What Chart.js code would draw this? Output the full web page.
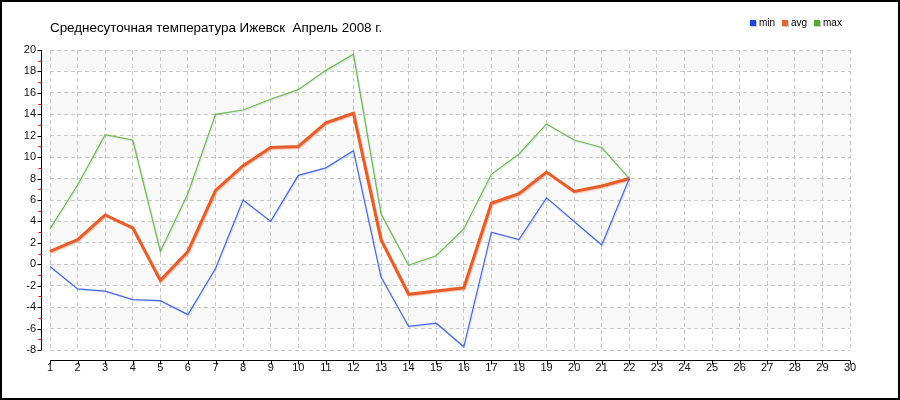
<!DOCTYPE html>
<html>
<head>
<meta charset="utf-8">
<title>Среднесуточная температура Ижевск</title>
<script src="https://cdn.jsdelivr.net/npm/chart.js@4/dist/chart.umd.min.js"></script>
<style>
  html, body { margin: 0; padding: 0; background: #fff; }
  #wrap { width: 900px; height: 400px; }
</style>
</head>
<body>
<div id="wrap"><canvas id="c" width="900" height="400"></canvas></div>
<script>
// --- данные: апрель 2008, дни 1..30, значения до 22-го ---
var days = ['1','2','3','4','5','6','7','8','9','10','11','12','13','14','15',
            '16','17','18','19','20','21','22','23','24','25','26','27','28','29','30'];
var tMin = [-0.2, -2.3, -2.5, -3.3, -3.4, -4.7, -0.4, 6.0, 4.0, 8.3, 9.0, 10.6, -1.2, -5.8, -5.5,
            -7.7, 3.0, 2.3, 6.2, 4.0, 1.8, 8.0];
var tAvg = [1.2, 2.3, 4.6, 3.4, -1.5, 1.2, 6.9, 9.2, 10.9, 11.0, 13.2, 14.1, 2.3, -2.8, -2.5,
            -2.2, 5.7, 6.6, 8.6, 6.8, 7.3, 8.0];
var tMax = [3.3, 7.4, 12.1, 11.6, 1.2, 6.6, 14.0, 14.4, 15.4, 16.3, 18.1, 19.6, 4.7, -0.1, 0.8,
            3.3, 8.4, 10.3, 13.1, 11.6, 10.9, 8.0];
var seriesNames = ['min', 'avg', 'max'];
var yMin = -8, yMax = 20, yStep = 2;

var TITLE = 'Среднесуточная температура Ижевск  Апрель 2008 г.';
var TICK_FONT = { family: "'Liberation Sans Narrow', 'Liberation Sans', sans-serif", size: 11 };

// фон: чередующиеся серые полосы
var bands = {
  id: 'bands',
  beforeDraw: function (chart) {
    var ctx = chart.ctx, a = chart.chartArea, y = chart.scales.y;
    ctx.save();
    ctx.fillStyle = '#fff';
    ctx.fillRect(0, 0, chart.width, chart.height);
    ctx.fillStyle = '#f8f8f8';
    for (var v = yMax; v > yMin; v -= 2 * yStep) {
      var t = y.getPixelForValue(v), b = y.getPixelForValue(v - yStep);
      ctx.fillRect(a.left, t, a.right - a.left, b - t);
    }
    ctx.restore();
  }
};

// линии с лёгкой тенью
var shadow = {
  id: 'shadow',
  beforeDatasetDraw: function (chart, args) {
    var ctx = chart.ctx;
    ctx.save();
    ctx.shadowColor = args.index === 1 ? 'rgba(235,120,80,0.45)' : 'rgba(120,140,220,0.25)';
    ctx.shadowOffsetX = 1;
    ctx.shadowOffsetY = 1;
    ctx.shadowBlur = 1;
  },
  afterDatasetDraw: function (chart) { chart.ctx.restore(); }
};

// оси отдельно от области графика, заголовок, легенда, рамка
var decor = {
  id: 'decor',
  afterDraw: function (chart) {
    var ctx = chart.ctx, a = chart.chartArea, xs = chart.scales.x, ys = chart.scales.y;
    var ax = a.left - 8.5, ay = a.bottom + 10.5;
    ctx.save();
    ctx.lineWidth = 1;

    // ось Y
    ctx.strokeStyle = '#000';
    ctx.beginPath();
    ctx.moveTo(ax, a.top); ctx.lineTo(ax, a.bottom);
    for (var v = yMin; v <= yMax; v += yStep) {
      var p = Math.round(ys.getPixelForValue(v)) + 0.5;
      ctx.moveTo(ax - 4, p); ctx.lineTo(ax, p);
    }
    ctx.stroke();
    ctx.strokeStyle = '#e00000';
    ctx.beginPath();
    for (var m = yMin + yStep / 2; m < yMax; m += yStep) {
      var q = Math.round(ys.getPixelForValue(m)) + 0.5;
      ctx.moveTo(ax - 3, q); ctx.lineTo(ax, q);
    }
    ctx.stroke();

    // ось X
    ctx.strokeStyle = '#000';
    ctx.beginPath();
    ctx.moveTo(a.left, ay); ctx.lineTo(a.right, ay);
    for (var i = 0; i < days.length; i++) {
      var px = Math.round(xs.getPixelForValue(i)) + 0.5;
      ctx.moveTo(px, ay); ctx.lineTo(px, ay + 4);
    }
    ctx.stroke();

    // заголовок
    ctx.fillStyle = '#000';
    ctx.font = "13.4px 'Liberation Sans', Arial, sans-serif";
    ctx.textBaseline = 'middle';
    ctx.textAlign = 'left';
    ctx.fillText(TITLE, 50, 28);

    // легенда
    var cols = chart.data.datasets.map(function (d) { return d.legendColor; });
    ctx.font = "10px 'Liberation Sans', Arial, sans-serif";
    seriesNames.forEach(function (n, k) {
      var lx = 750 + k * 32;
      ctx.fillStyle = '#c8c8c8';
      ctx.fillRect(lx + 1, 21, 6, 6);
      ctx.fillStyle = cols[k];
      ctx.fillRect(lx, 20, 6, 6);
      ctx.fillStyle = '#000';
      ctx.fillText(n, lx + 9, 23.5);
    });

    // рамка
    ctx.strokeStyle = '#000';
    ctx.lineWidth = 2;
    ctx.strokeRect(1, 1, chart.width - 2, chart.height - 2);
    ctx.restore();
  }
};

new Chart(document.getElementById('c'), {
  type: 'line',
  data: {
    labels: days,
    datasets: [
      { label: seriesNames[0], data: tMin, borderColor: '#4466e6', legendColor: '#1f44e0', borderWidth: 1.2 },
      { label: seriesNames[1], data: tAvg, borderColor: '#e55e2a', legendColor: '#e8652f', borderWidth: 3 },
      { label: seriesNames[2], data: tMax, borderColor: '#6cbb48', legendColor: '#4cae2a', borderWidth: 1.2 }
    ]
  },
  options: {
    responsive: false,
    animation: false,
    devicePixelRatio: 1,
    elements: { point: { radius: 0 }, line: { tension: 0, fill: false } },
    layout: { padding: { top: 50, right: 50, left: 0, bottom: 0 } },
    plugins: { legend: { display: false }, title: { display: false }, tooltip: { enabled: false } },
    scales: {
      x: {
        type: 'category',
        offset: false,
        afterFit: function (s) { s.height = 50; },
        grid: { color: '#c8c8c8', drawTicks: false },
        border: { display: false, dash: [4, 3] },
        ticks: { color: '#111', font: TICK_FONT, padding: 11, maxRotation: 0, autoSkip: false }
      },
      y: {
        min: yMin,
        max: yMax,
        afterFit: function (s) { s.width = 50; },
        grid: { color: '#c8c8c8', drawTicks: false },
        border: { display: false, dash: [4, 3] },
        ticks: { stepSize: yStep, color: '#111', font: TICK_FONT, padding: 14 }
      }
    }
  },
  plugins: [bands, shadow, decor]
});
</script>
</body>
</html>
